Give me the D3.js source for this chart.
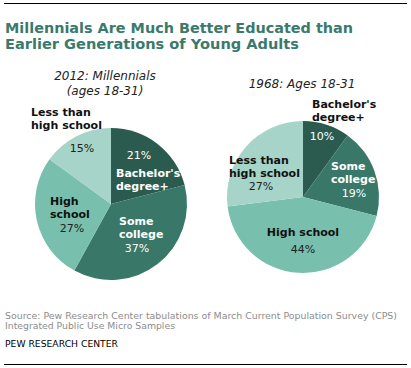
<!DOCTYPE html>
<html><head><meta charset="utf-8">
<script src="https://cdn.jsdelivr.net/npm/d3@7"></script>
<style>body{margin:0;background:#fff}svg{display:block}</style>
</head><body><div id="chart"></div>
<script>
const categories = ["Bachelor's degree+", "Some college", "High school", "Less than high school"];
const values2012 = [21, 37, 27, 15];
const values1968 = [10, 19, 44, 27];
const colors = ["#2b5b4e", "#397868", "#78bfad", "#a6d4c8"];
const titleLines = ["Millennials Are Much Better Educated than", "Earlier Generations of Young Adults"];
const sourceLines = ["Source: Pew Research Center tabulations of March Current Population Survey (CPS)", "Integrated Public Use Micro Samples"];

const W = 411, H = 368;
const svg = d3.select("#chart").append("svg").attr("width", W).attr("height", H);
const font = "Verdana, 'DejaVu Sans', sans-serif";

svg.append("line").attr("x1", 4).attr("x2", 407).attr("y1", 3.5).attr("y2", 3.5).attr("stroke", "#000").attr("stroke-width", 1);
svg.append("line").attr("x1", 4).attr("x2", 407).attr("y1", 364.5).attr("y2", 364.5).attr("stroke", "#000").attr("stroke-width", 1);

function fitText(sel, target) {
  const n = sel.node();
  const w = n.getComputedTextLength();
  if (Math.abs(w - target) > 1) sel.attr("textLength", target).attr("lengthAdjust", "spacingAndGlyphs");
}

const title = svg.append("text").attr("font-family", font).attr("font-weight", "bold")
  .attr("font-size", 14.5).attr("fill", "#3a7a6c");
const titleTargets = [348, 294];
titleLines.forEach((t, i) => {
  const s = title.append("tspan").attr("x", 5).attr("y", 32.5 + i * 16.9).text(t);
  fitText(s, titleTargets[i]);
});

const pie = d3.pie().sort(null).value(d => d);
const arc = d3.arc().innerRadius(0).outerRadius(76);

function drawPie(cx, cy, vals) {
  const g = svg.append("g").attr("transform", `translate(${cx},${cy})`);
  g.selectAll("path").data(pie(vals)).join("path")
    .attr("d", arc).attr("fill", (d, i) => colors[i]);
}
drawPie(111, 204, values2012);
drawPie(303, 197, values1968);

function label(x, y, lines, opts) {
  const t = svg.append("text").attr("font-family", font).attr("font-size", opts.size || 11)
    .attr("font-weight", opts.bold ? "bold" : "normal")
    .attr("font-style", opts.italic ? "italic" : "normal")
    .attr("fill", opts.fill || "#111").attr("text-anchor", opts.anchor || "start");
  lines.forEach((l, i) => t.append("tspan").attr("x", x).attr("y", y + i * (opts.lh || 12.5)).text(l));
}

// 2012 pie labels
label(105, 80, ["2012: Millennials", "(ages 18-31)"], {italic: true, anchor: "middle", size: 12, lh: 15, fill: "#222"});
label(31, 116, ["Less than", "high school"], {bold: true});
label(82, 152, [values2012[3] + "%"], {anchor: "middle", fill: "#222"});
label(139, 159, [values2012[0] + "%"], {anchor: "middle", fill: "#fff"});
label(116, 177, ["Bachelor's", "degree+"], {bold: true, fill: "#fff"});
label(50, 205, ["High", "school"], {bold: true});
label(72, 232, [values2012[2] + "%"], {anchor: "middle", fill: "#222"});
label(119, 225, ["Some", "college"], {bold: true, fill: "#fff"});
label(137, 252, [values2012[1] + "%"], {anchor: "middle", fill: "#fff"});

// 1968 pie labels
label(302, 88, ["1968: Ages 18-31"], {italic: true, anchor: "middle", size: 12, fill: "#222"});
label(312, 108, ["Bachelor's", "degree+"], {bold: true});
label(322, 140, [values1968[0] + "%"], {anchor: "middle", fill: "#fff"});
label(331, 170, ["Some", "college"], {bold: true, fill: "#fff"});
label(354, 197, [values1968[1] + "%"], {anchor: "middle", fill: "#fff"});
label(229, 164, ["Less than", "high school"], {bold: true});
label(261, 190, [values1968[3] + "%"], {anchor: "middle", fill: "#222"});
label(303, 236, ["High school"], {bold: true, anchor: "middle"});
label(303, 253, [values1968[2] + "%"], {anchor: "middle", fill: "#222"});

const src = svg.append("text").attr("font-family", font).attr("font-size", 9.5).attr("fill", "#8c8c8c");
const srcTargets = [392, 170];
sourceLines.forEach((t, i) => {
  const s = src.append("tspan").attr("x", 5).attr("y", 319 + i * 10).text(t);
  fitText(s, srcTargets[i]);
});
const p = svg.append("text").attr("x", 5).attr("y", 347).attr("font-family", font)
  .attr("font-size", 9.5).attr("fill", "#000").text("PEW RESEARCH  CENTER");
fitText(p, 113);
</script></body></html>
